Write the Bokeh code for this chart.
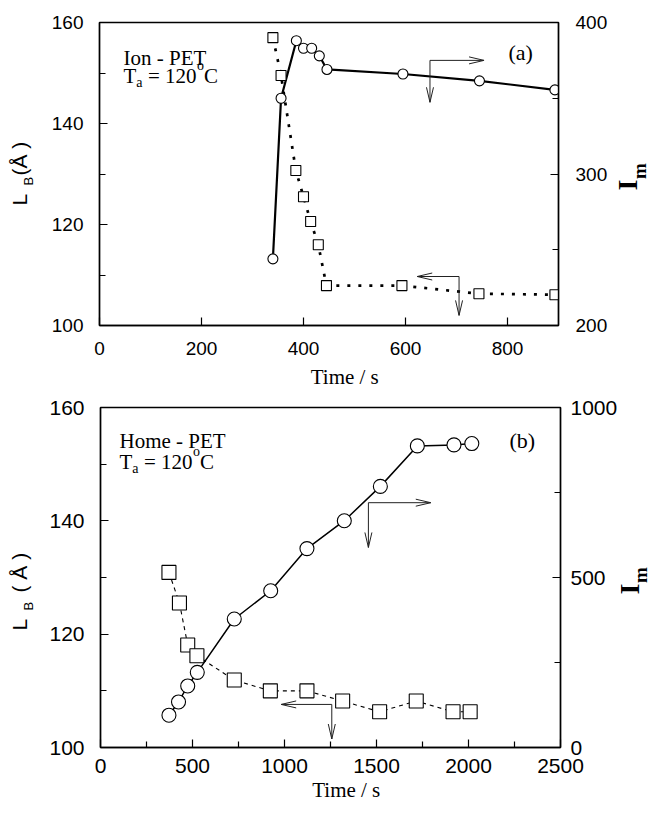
import math
from bokeh.plotting import figure
from bokeh.layouts import column, row
from bokeh.models import Range1d, LinearAxis, FixedTicker, Label
from bokeh.embed import file_html
from bokeh.resources import INLINE

# ---------------- data: panel (a) Ion - PET ----------------
a_time_lb = [340, 356, 385, 400, 414, 429, 445, 593, 744, 893]
a_lb = [157.0, 149.5, 130.7, 125.5, 120.6, 116.0, 107.9, 107.9, 106.3, 106.1]
a_time_im = [340, 356, 386, 400, 416, 431, 446, 595, 745, 893]
a_im = [244, 350, 388, 383, 383, 378, 369, 366, 361.5, 355.5]
a_xticks = [0, 200, 400, 600, 800]
a_yticks = [100, 120, 140, 160]
a_yminor = [110, 130, 150]
a_rticks = [200, 300, 400]
a_rminor = [250, 350]
# L-shaped arrows: corner x, corner y (L_B units), horizontal tip x, vertical tip y
a_arrows = [(648, 152.5, 754, 144.2), (705, 109.7, 623, 102.0)]

# ---------------- data: panel (b) Home - PET ----------------
b_time_lb = [372, 429, 474, 524, 727, 923, 1122, 1316, 1517, 1716, 1916, 2009]
b_lb = [130.9, 125.5, 118.1, 116.2, 111.9, 110.0, 110.0, 108.2, 106.3, 108.2, 106.3, 106.3]
b_time_im = [372, 424, 474, 526, 727, 925, 1122, 1325, 1521, 1722, 1921, 2018]
b_im = [95, 134, 181, 221, 378, 461, 585, 667, 768, 887, 890, 894]
b_xticks = [0, 500, 1000, 1500, 2000, 2500]
b_xminor = [250, 750, 1250, 1750, 2250]
b_yticks = [100, 120, 140, 160]
b_yminor = [110, 130, 150]
b_rticks = [0, 500, 1000]
b_rminor = [250, 750]
b_arrows = [(1456, 143.2, 1795, 135.3), (1257, 107.6, 982, 101.5)]

SERIF = "Liberation Serif"
SANS = "Liberation Sans"
ROT = math.pi / 2
NB = "\u00a0"


def lab(p, x, y, text, size, font=SERIF, style="normal", angle=0.0, align="left",
        baseline="alphabetic"):
    p.add_layout(Label(x=x, y=y, x_units="screen", y_units="screen", text=text,
                       text_font=font, text_font_size=f"{size}px", text_font_style=style,
                       text_color="black", angle=angle, angle_units="rad",
                       text_align=align, text_baseline=baseline))


def rlab(p, x, y, text, size, font=SERIF, style="normal"):
    # rotated label reading upwards; y = start of text
    lab(p, x, y, text, size, font=font, style=style, angle=ROT, align="left",
        baseline="bottom")


def label_fig(w, bt, fh, bb):
    # frame shares the main panel's vertical extent
    f = figure(width=w, height=bt + fh + bb, output_backend="svg", toolbar_location=None,
               x_axis_location=None, y_axis_location=None,
               x_range=Range1d(0, 1), y_range=Range1d(0, 1),
               min_border_left=0, min_border_right=0,
               min_border_top=bt, min_border_bottom=bb)
    f.outline_line_color = None
    f.xgrid.visible = False
    f.ygrid.visible = False
    f.background_fill_color = "white"
    f.border_fill_color = "white"
    return f


def make_panel(cfg):
    fw, fh = cfg["fw"], cfg["fh"]
    p = figure(frame_width=fw, frame_height=fh, output_backend="svg", toolbar_location=None,
               x_range=Range1d(*cfg["xr"]), y_range=Range1d(100, 160),
               min_border_left=cfg["bl"], min_border_right=cfg["br"],
               min_border_top=cfg["bt"], min_border_bottom=cfg["bb"])
    p.extra_y_ranges = {"im": Range1d(*cfg["rr"])}
    p.xgrid.visible = False
    p.ygrid.visible = False
    p.outline_line_color = "black"
    p.outline_line_width = 1.4
    p.background_fill_color = "white"
    p.border_fill_color = "white"

    raxis = LinearAxis(y_range_name="im")
    p.add_layout(raxis, "right")

    tsize = cfg["tick_font"]
    for ax, ticks, minor, stand in [(p.xaxis[0], cfg["xt"], cfg["xm"], cfg["sx"]),
                                    (p.yaxis[0], cfg["yt"], cfg["ym"], cfg["sl"]),
                                    (raxis, cfg["rt"], cfg["rm"], cfg["sr"])]:
        ax.ticker = FixedTicker(ticks=ticks, minor_ticks=minor)
        ax.axis_line_color = "black"
        ax.axis_line_width = 1.4
        ax.major_tick_in = 8
        ax.major_tick_out = 0
        ax.minor_tick_in = 6
        ax.minor_tick_out = 0
        ax.major_tick_line_color = "black"
        ax.minor_tick_line_color = "black"
        ax.major_tick_line_width = 1.2
        ax.minor_tick_line_width = 1.2
        ax.major_label_text_font = SANS
        ax.major_label_text_font_size = f"{tsize}px"
        ax.major_label_text_color = "black"
        ax.major_label_standoff = stand
        ax.axis_label = None

    xa = p.xaxis[0]
    xa.axis_label = NB * 6 + "Time / s"
    xa.axis_label_text_font = SERIF
    xa.axis_label_text_font_style = "normal"
    xa.axis_label_text_font_size = "21px"
    xa.axis_label_text_color = "black"
    xa.axis_label_standoff = cfg["time_standoff"]

    # connecting lines
    p.line(cfg["t_im"], cfg["im"], y_range_name="im", line_color="black",
           line_width=cfg["im_lw"])
    p.line(cfg["t_lb"], cfg["lb"], line_color="black", line_width=cfg["lb_lw"],
           line_dash=cfg["lb_dash"])
    # markers
    p.scatter(cfg["t_im"], cfg["im"], y_range_name="im", marker="circle", size=cfg["msize"],
              fill_color="white", line_color="black", line_width=1.1)
    p.scatter(cfg["t_lb"], cfg["lb"], marker="square", size=cfg["msize"],
              fill_color="white", line_color="black", line_width=1.1)

    # L-shaped arrows with narrow open heads
    sx = fw / (cfg["xr"][1] - cfg["xr"][0])
    sy = fh / 60.0
    L, W = 15.0, 3.5
    x0, y0, x1, y1 = [], [], [], []
    for cx, cy, htip, vtip in cfg["arrows"]:
        d = 1 if htip > cx else -1
        segs = [(cx, cy, htip, cy), (cx, cy, cx, vtip),
                (htip, cy, htip - d * L / sx, cy + W / sy),
                (htip, cy, htip - d * L / sx, cy - W / sy),
                (cx, vtip, cx - W / sx, vtip + L / sy),
                (cx, vtip, cx + W / sx, vtip + L / sy)]
        for a, b, c, e in segs:
            x0.append(a); y0.append(b); x1.append(c); y1.append(e)
    p.segment(x0, y0, x1, y1, line_color="#222222", line_width=1.0)

    # in-plot texts
    tx, ty1, ty2 = cfg["txt_x"], cfg["txt_y1"], cfg["txt_y2"]
    F, S = 21, 14
    lab(p, tx, ty1, cfg["name"], F)
    lab(p, tx, ty2, "T", F)
    lab(p, tx + 12.8, ty2 - 7, "a", S)
    lab(p, tx + 24.5, ty2, "= 120", F)
    lab(p, tx + 73.5, ty2 + 10, "o", S)
    lab(p, tx + 80.5, ty2, "C", F)
    lab(p, cfg["tag_x"], cfg["tag_y"], cfg["tag"], 22)

    # side label figures (left: L_B(Å), right: I_m); y measured from frame bottom
    lf = label_fig(cfg["lw"], cfg["bt"], fh, cfg["bb"])
    rlab(lf, cfg["lb_x"], cfg["lb_L"], "L", 21, font=SANS)
    rlab(lf, cfg["lb_xs"], cfg["lb_B"], "B", 13, font=SANS)
    rlab(lf, cfg["lb_x"], cfg["lb_P"], cfg["lb_txt"], 21, font=SANS)

    rf = label_fig(cfg["rw"], cfg["bt"], fh, cfg["bb"])
    rlab(rf, cfg["im_x"], cfg["im_I"], "I", 28, style="bold")
    rlab(rf, cfg["im_xs"], cfg["im_I"] + 11.5, "m", 19, style="bold")
    return row(lf, p, rf, spacing=0)


cfg_a = dict(fw=459, fh=303, xr=(0, 900), rr=(200, 400), bl=54, br=54, bt=22, bb=69,
             lw=45, rw=40,
             xt=a_xticks, xm=[], yt=a_yticks, ym=a_yminor, rt=a_rticks, rm=a_rminor,
             sx=16, sl=16, sr=17, tick_font=19, time_standoff=7,
             t_lb=a_time_lb, lb=a_lb, t_im=a_time_im, im=a_im,
             im_lw=2.2, lb_lw=2.7, lb_dash="3 8", msize=10, arrows=a_arrows,
             name="Ion - PET", txt_x=24, txt_y1=268, txt_y2=250,
             tag="(a)", tag_x=409, tag_y=273,
             lb_x=30, lb_xs=35, lb_L=120, lb_B=140, lb_P=150, lb_txt="(Å )",
             im_x=30, im_xs=37, im_I=135)

cfg_b = dict(fw=460, fh=340, xr=(0, 2500), rr=(0, 1000), bl=55, br=57, bt=13, bb=65,
             lw=45, rw=35,
             xt=b_xticks, xm=b_xminor, yt=b_yticks, ym=b_yminor, rt=b_rticks, rm=b_rminor,
             sx=11, sl=16, sr=10, tick_font=21, time_standoff=2,
             t_lb=b_time_lb, lb=b_lb, t_im=b_time_im, im=b_im,
             im_lw=1.5, lb_lw=1.1, lb_dash="4 4", msize=14, arrows=b_arrows,
             name="Home - PET", txt_x=19, txt_y1=307, txt_y2=286,
             tag="(b)", tag_x=409, tag_y=307,
             lb_x=30, lb_xs=35, lb_L=117, lb_B=137, lb_P=155, lb_txt="( Å )",
             im_x=24, im_xs=30, im_I=153)

r1 = make_panel(cfg_a)
r2 = make_panel(cfg_b)
layout = column(r1, r2, spacing=0)
open("out.html", "w").write(file_html(layout, INLINE))
